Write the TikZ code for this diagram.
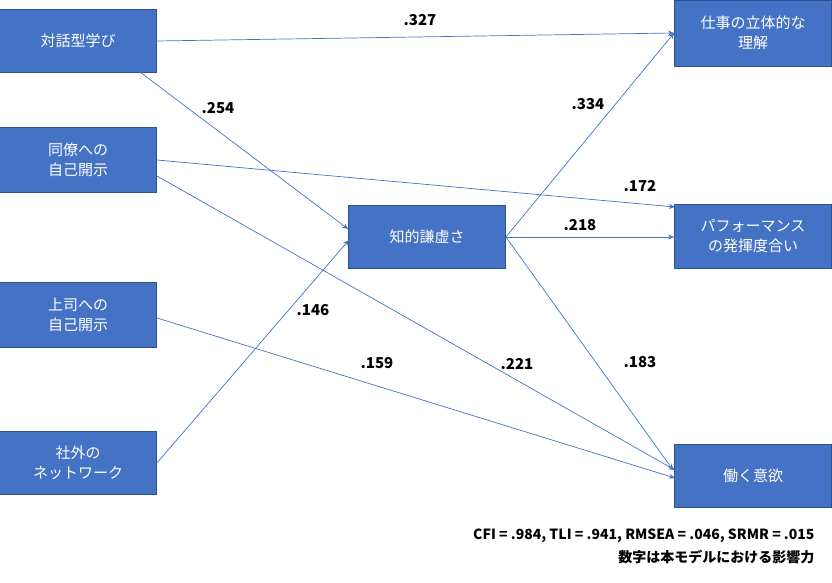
\documentclass[tikz,border=0pt]{standalone}
\usepackage{fontspec}
\setmainfont{Noto Sans CJK JP}
\usetikzlibrary{arrows.meta}
\definecolor{boxblue}{RGB}{68,114,196}
\definecolor{boxedge}{RGB}{47,82,143}
\tikzset{%
    factor/.style={draw=boxedge, fill=boxblue, text=white, minimum width=157pt,
        minimum height=63pt, align=center, font=\fontsize{15}{20}\selectfont, line width=0.8pt},
    path/.style={draw=boxblue, line width=0.7pt, -{Stealth[length=6pt,width=5pt]}},
    coef/.style={font=\bfseries\fontsize{15}{18}\selectfont}
}
\begin{document}
\begin{tikzpicture}[x=1pt,y=-1pt]
    \useasboundingbox (0,0) rectangle (832,583);
    \node[factor] (taiwa) at (78,41) {対話型学び};
    \node[factor, minimum height=65pt] (douryou) at (78,160) {同僚への\\自己開示};
    \node[factor, minimum height=65pt] (joushi) at (78,315) {上司への\\自己開示};
    \node[factor] (shagai) at (78,463) {社外の\\ネットワーク};
    \node[factor] (kenkyo) at (427,237) {知的謙虚さ};
    \node[factor, minimum height=66pt] (rikai) at (753,33) {仕事の立体的な\\理解};
    \node[factor, minimum height=64pt] (perf) at (753,236) {パフォーマンス\\の発揮度合い};
    \node[factor] (iyoku) at (753,476) {働く意欲};
    % paths
    \draw[path] (taiwa.east) -- (rikai.west);
    \draw[path] (140,72) -- (kenkyo.west |- 0,229);
    \draw[path] (douryou.east) -- (675,207);
    \draw[path] (157,176) -- (675,470);
    \draw[path] (157,318) -- (675,478);
    \draw[path] (shagai.east) -- (349,240);
    \draw[path] (kenkyo.east) -- (rikai.west);
    \draw[path] (kenkyo.east) -- (perf.west |- kenkyo.east);
    \draw[path] (kenkyo.east) -- (673,470);
    % coefficients
    \node[coef] at (420,20) {.327};
    \node[coef] at (218,108) {.254};
    \node[coef] at (640,186) {.172};
    \node[coef] at (517,364) {.221};
    \node[coef] at (377,363) {.159};
    \node[coef] at (313,310) {.146};
    \node[coef] at (588,104) {.334};
    \node[coef] at (580,225) {.218};
    \node[coef] at (640,362) {.183};
    \node[anchor=east, font=\bfseries\fontsize{14}{17}\selectfont] (fit) at (818,536) {CFI = .984, TLI = .941, RMSEA = .046, SRMR = .015};
    \node[anchor=east, font=\bfseries\fontsize{14}{17}\selectfont] (note) at (818,557) {数字は本モデルにおける影響力};
\end{tikzpicture}
\end{document}
